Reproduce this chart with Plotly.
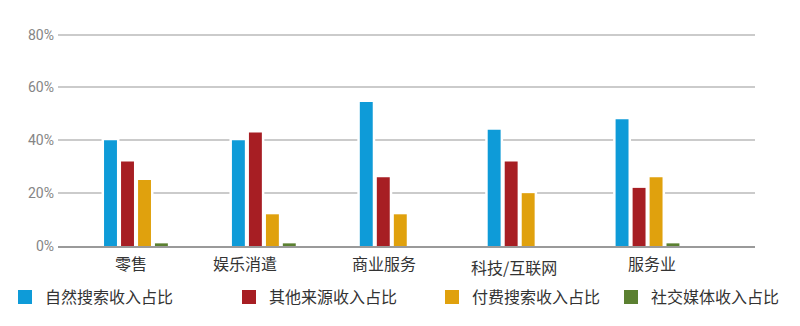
import plotly.graph_objects as go

# Industries and share of revenue by source (%)
categories = ["零售", "娱乐消遣", "商业服务", "科技/互联网", "服务业"]
organic_search = [40, 40, 54.5, 44, 48]
other_sources = [32, 43, 26, 32, 22]
paid_search = [25, 12, 12, 20, 26]
social_media = [1, 1, 0, 0, 1]

series_names = ["自然搜索收入占比", "其他来源收入占比", "付费搜索收入占比", "社交媒体收入占比"]
series_values = [organic_search, other_sources, paid_search, social_media]
colors = ["#0e9bd8", "#a71e23", "#e0a10d", "#5b8031"]

y_ticks = [0, 20, 40, 60, 80]
y_tick_text = ["0%", "20%", "40%", "60%", "80%"]

CJK = "Noto Sans CJK SC, Noto Sans, sans-serif"

# Bar placement within each category (in category units)
bar_width = 0.101
bar_offsets = [-0.25, -0.117, 0.016, 0.148]

fig = go.Figure()
xs = list(range(len(categories)))

# White halo behind every bar so the gridlines break around it
for vals, off in zip(series_values, bar_offsets):
    fig.add_trace(go.Bar(
        x=xs, y=vals, offset=off, width=bar_width, showlegend=False,
        marker=dict(color="white", line=dict(color="white", width=5)),
        hoverinfo="skip",
    ))
for name, vals, col, off in zip(series_names, series_values, colors, bar_offsets):
    fig.add_trace(go.Bar(
        x=xs, y=vals, name=name, offset=off, width=bar_width, showlegend=False,
        marker=dict(color=col, line=dict(width=0)),
    ))

# Legend entries, each placed in its own legend box
legend_x = [5, 229, 432, 611]
for i, (name, col) in enumerate(zip(series_names, colors)):
    lid = "legend" if i == 0 else f"legend{i + 1}"
    fig.add_trace(go.Scatter(
        x=[None], y=[None], mode="markers", name=name, legend=lid,
        marker=dict(symbol="square", size=14, color=col),
    ))

W, H = 800, 326
plot_left, plot_right = 58, 755
y_top_val = 81
px_per_pct = (246 - 35) / 80
plot_bottom = 246
plot_top = plot_bottom - y_top_val * px_per_pct
pw = plot_right - plot_left
ph = plot_bottom - plot_top

legends = {}
for i, lx in enumerate(legend_x):
    lid = "legend" if i == 0 else f"legend{i + 1}"
    legends[lid] = dict(
        x=(lx - plot_left) / pw, xanchor="left",
        y=-(297 - plot_bottom) / ph, yanchor="middle",
        orientation="h", bgcolor="rgba(0,0,0,0)", borderwidth=0,
        font=dict(family=CJK, size=16, color="#333333"),
        itemsizing="trace",
    )

# Category labels under each group
label_shift = [-5, -19, -8, -6, 4]
label_y = [263, 263, 263, 267, 263]
annotations = []
for i, (cat, dx, ly) in enumerate(zip(categories, label_shift, label_y)):
    annotations.append(dict(
        x=i, xref="x", y=-(ly - plot_bottom) / ph, yref="paper",
        text=cat, showarrow=False, xshift=dx, xanchor="center", yanchor="middle",
        font=dict(family=CJK, size=16, color="#333333"),
    ))

fig.update_layout(
    width=W, height=H,
    margin=dict(l=plot_left, r=W - plot_right, t=plot_top, b=H - plot_bottom,
                pad=0, autoexpand=False),
    paper_bgcolor="white", plot_bgcolor="white",
    barmode="overlay",
    annotations=annotations,
    **legends,
)
fig.update_xaxes(
    range=[-0.61, 4.84], showticklabels=False, showgrid=False, zeroline=False,
    showline=True, linecolor="#9a9a9a", linewidth=2, ticks="",
)
fig.update_yaxes(
    range=[0, y_top_val], tickvals=y_ticks, ticktext=y_tick_text,
    showgrid=True, gridcolor="#cbcbcb", gridwidth=2, zeroline=False,
    showline=False, ticks="", ticklabelstandoff=3,
    tickfont=dict(family="Liberation Sans Narrow, Roboto, sans-serif", size=14, color="#858585"),
)

fig.write_html("out.html")
